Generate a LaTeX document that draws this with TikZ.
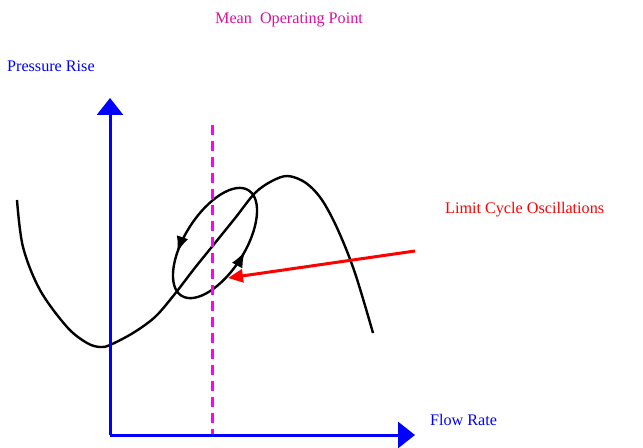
\documentclass[tikz,border=0pt]{standalone}
\usepackage{fontspec}
\setmainfont{Liberation Serif}
\usetikzlibrary{arrows.meta,decorations.markings}
\definecolor{meanpink}{RGB}{221,17,153}
\definecolor{dashpink}{RGB}{255,0,255}
\tikzset{
  axis/.style={blue,line width=0.15cm,-{Triangle[length=0.85cm,width=1.3cm]}},
  label/.style={font=\fontsize{23}{27}\selectfont,inner sep=0pt},
  cycle/.style={line width=0.12cm,postaction={decorate},
    decoration={markings,
      mark=at position 0.345 with {\arrow{Latex[length=0.8cm,width=0.6cm]}},
      mark=at position 0.78 with {\arrow{Latex[length=0.8cm,width=0.6cm]}}}}
}
\begin{document}
\begin{tikzpicture}[x=0.05cm,y=0.05cm]
  \useasboundingbox (0,0) rectangle (643,447);
  \coordinate (O) at (110,12);
  \coordinate (ytip) at (110,349);
  \coordinate (xtip) at (415,12);
  \coordinate (c) at (215,204);
  % characteristic
  \draw[line width=0.12cm] plot[smooth,tension=0.55] coordinates {(17,247) (23,200) (40,157) (67,120) (87,104) (100,100) (110,102) (133,114) (155,130) (174,152) (194,178) (215,204) (236,230) (255,254) (272,266) (288,271) (306,264) (322,247) (338,217) (355,174) (373,114)};
  \draw[cycle,rotate around={57.5:(c)}] (c) ellipse [x radius=62.5,y radius=30];
  % mean operating point
  \draw[dashpink,line width=0.15cm,dash pattern=on 0.5cm off 0.3cm] (212,322) -- (212,12);
  \draw[axis] (O) -- (ytip);
  \draw[axis] (O) -- (xtip);
  \node[label,text=meanpink] (mean) at (289,427) {Mean\ \ Operating Point};
  \node[label,text=blue,anchor=west] (prise) at (7,381) {Pressure Rise};
  \node[label,text=blue,anchor=west] (flow) at (430,27) {Flow Rate};
  \node[label,text=red,anchor=west] (limit) at (445,237) {Limit Cycle Oscillations};
  \coordinate (rtail) at (415,196);
  \coordinate (rtip) at (228,169);
  \draw[red,line width=0.15cm,-{Triangle[length=0.75cm,width=0.65cm]}] (rtail) -- (rtip);
\end{tikzpicture}
\end{document}
